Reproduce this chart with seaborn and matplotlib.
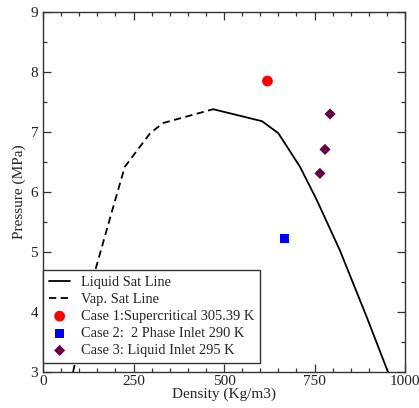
import matplotlib
matplotlib.use("Agg")
import matplotlib.pyplot as plt
import seaborn as sns
import pandas as pd
from matplotlib.ticker import MultipleLocator

sns.set_style("white")
plt.rcParams['font.family'] = ['Liberation Serif', 'DejaVu Serif']

# Vapour saturation line (dashed)
vap_density = [83, 146, 193, 226, 296, 332, 470]
vap_pressure = [3.0, 4.73, 5.73, 6.42, 6.98, 7.15, 7.38]
# Liquid saturation line (solid)
liq_density = [470, 605, 650, 710, 756, 820, 894, 953]
liq_pressure = [7.38, 7.18, 6.98, 6.42, 5.87, 5.03, 3.92, 3.0]

case1_density = [620]
case1_pressure = [7.85]
case2_density = [666]
case2_pressure = [5.22]
case3_density = [793, 779, 765]
case3_pressure = [7.30, 6.71, 6.31]

labels = ["Liquid Sat Line", "Vap. Sat Line",
          "Case 1:Supercritical 305.39 K",
          "Case 2:  2 Phase Inlet 290 K",
          "Case 3: Liquid Inlet 295 K"]

fig = plt.figure(figsize=(4.19, 4.08), dpi=100)
ax = fig.add_axes([43/419, 1-372/408, (405-43)/419, (372-12)/408])

sns.lineplot(x=liq_density, y=liq_pressure, ax=ax, color='black', lw=1.3,
             sort=False, label=labels[0])
sns.lineplot(x=vap_density, y=vap_pressure, ax=ax, color='black', lw=1.3,
             sort=False, label=labels[1], linestyle=(0, (4, 2.5)))
sns.scatterplot(x=case1_density, y=case1_pressure, ax=ax, color='#ff0000',
                marker='o', s=60, edgecolor='none', label=labels[2])
sns.scatterplot(x=case2_density, y=case2_pressure, ax=ax, color='#0000ff',
                marker='s', s=42, edgecolor='none', label=labels[3])
sns.scatterplot(x=case3_density, y=case3_pressure, ax=ax, color='#660044',
                marker='D', s=32, edgecolor='none', label=labels[4])

ax.set_xlim(0, 1000)
ax.set_ylim(3, 9)
ax.xaxis.set_major_locator(MultipleLocator(250))
ax.xaxis.set_minor_locator(MultipleLocator(50))
ax.yaxis.set_major_locator(MultipleLocator(1))
ax.yaxis.set_minor_locator(MultipleLocator(0.5))
ax.tick_params(which='both', direction='in', top=True, right=True,
               bottom=True, left=True, colors='#333333', labelcolor='#222222',
               labelsize=11, width=0.9)
ax.tick_params(which='major', length=6)
ax.tick_params(which='minor', length=3)
ax.tick_params(axis='x', pad=2)
for sp in ax.spines.values():
    sp.set_color('#333333')
    sp.set_linewidth(1.0)

ax.set_xlabel("Density (Kg/m3)", fontsize=11, labelpad=0)
ax.set_ylabel("Pressure (MPa)", fontsize=11, labelpad=3)

leg = ax.legend(loc='lower left', bbox_to_anchor=(0.0, 0.025), fontsize=10.4,
                frameon=True, fancybox=False, edgecolor='#333333',
                framealpha=1.0,
                handlelength=1.5, borderpad=0.4, labelspacing=0.28,
                borderaxespad=0.0, handletextpad=0.7)
leg.get_frame().set_linewidth(1.0)

fig.savefig("out.png", dpi=100)
